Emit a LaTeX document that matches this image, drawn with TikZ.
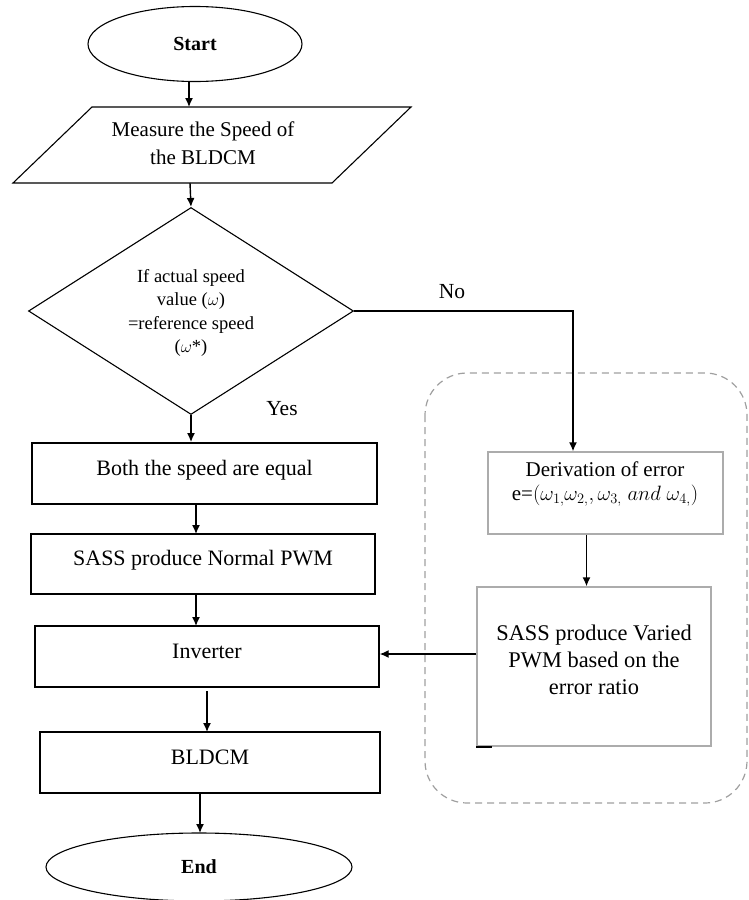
\documentclass[tikz,border=0pt]{standalone}
\usepackage{fontspec}
\setmainfont{Liberation Serif}
\usetikzlibrary{shapes.geometric,arrows.meta,calc}
\begin{document}
\begin{tikzpicture}[x=1pt,y=-1pt,
  arr/.style={-{Latex[length=9pt,width=8pt]}, line width=1.4pt},
  term/.style={ellipse, draw, line width=1.1pt, inner sep=0pt, font=\fontsize{20}{24}\selectfont\bfseries},
  lbox/.style={draw, line width=1.4pt, inner sep=0pt, text height=16pt, text depth=13pt, font=\fontsize{22}{26}\selectfont},
  gbox/.style={draw=gray!65, line width=1.4pt, inner sep=0pt, align=center},
  lbl/.style={font=\fontsize{21.5}{26}\selectfont, inner sep=0pt}
]
\useasboundingbox (0,0) rectangle (749,900);

% dashed group
\draw[gray!75, line width=1.2pt, dash pattern=on 7pt off 5pt, rounded corners=42pt] (425,373) rectangle (747,803);

% start
\node[term, minimum width=214, minimum height=75] (start) at (195,44) {Start};

% measure (parallelogram)
\draw[line width=1.1pt] (92,107) -- (411,107) -- (332,183) -- (13,183) -- cycle;
\node[font=\fontsize{21}{28.5}\selectfont, align=center, inner sep=0pt] (meas) at (203,143) {Measure the Speed of\\the BLDCM};
\coordinate (measT) at (189,107);
\coordinate (measB) at (190,183);

% decision
\node[diamond, draw, line width=1.1pt, minimum width=325, minimum height=207, inner sep=0pt] (dia) at (191,311) {};
\node[font=\fontsize{18.5}{23.3}\selectfont, align=center, inner sep=0pt] (diat) at (191,313) {If actual speed\\value ($\omega$)\\=reference speed\\($\omega$*)};

% left column
\node[lbox, minimum width=345, minimum height=61, line width=1.9pt] (both) at (204.5,473.5) {Both the speed are equal};
\node[lbox, minimum width=344, minimum height=60] (norm) at (203,564) {SASS produce Normal PWM};
\node[lbox, minimum width=344, minimum height=61] (inv) at (207,656.5) {Inverter};
\node[lbox, minimum width=340, minimum height=61] (bldc) at (210,762.5) {BLDCM};
\node[term, minimum width=306, minimum height=68] (end) at (199,867) {End};

% right column
\node[gbox, minimum width=235, minimum height=82] (der) at (605.5,493) {};
\node[font=\fontsize{21}{24.5}\selectfont, align=center, inner sep=0pt] (dert) at (605,484) {Derivation of error\\e=$(\omega_{1,}\omega_{2,},\omega_{3,}\;and\;\omega_{4,})$};
\node[gbox, minimum width=234, minimum height=159, font=\fontsize{22.4}{27}\selectfont] (var) at (594,666.5) {};
\node[font=\fontsize{22.4}{27}\selectfont, align=center, inner sep=0pt] (vart) at (594,660) {SASS produce Varied\\PWM based on the\\error ratio};
\draw[line width=2pt] (var.south west) -- ++(16,0);

% labels
\node[lbl] (no) at (452,292) {No};
\node[lbl] (yes) at (282,409) {Yes};
\coordinate (noC) at (573,311);

% connectors
\draw[arr] (189,81) -- (measT);
\draw[arr] (measB) -- (dia.north);
\draw[arr] (dia.south) -- (dia.south |- both.north);
\draw[arr] (dia.east) -- (noC) -- (noC |- der.north);
\draw[arr] ([xshift=-19pt]der.south) -- ([xshift=-19pt]der.south |- var.north);
\draw[arr] ([yshift=12.5pt]var.west) -- ([yshift=12.5pt]var.west -| inv.east);
\draw[arr] (196,504) -- (196,534);
\draw[arr] (196,594) -- (196,626);
\draw[arr] (207,691) -- (207,732);
\draw[arr] (200,793) -- (200,833);
\end{tikzpicture}
\end{document}
